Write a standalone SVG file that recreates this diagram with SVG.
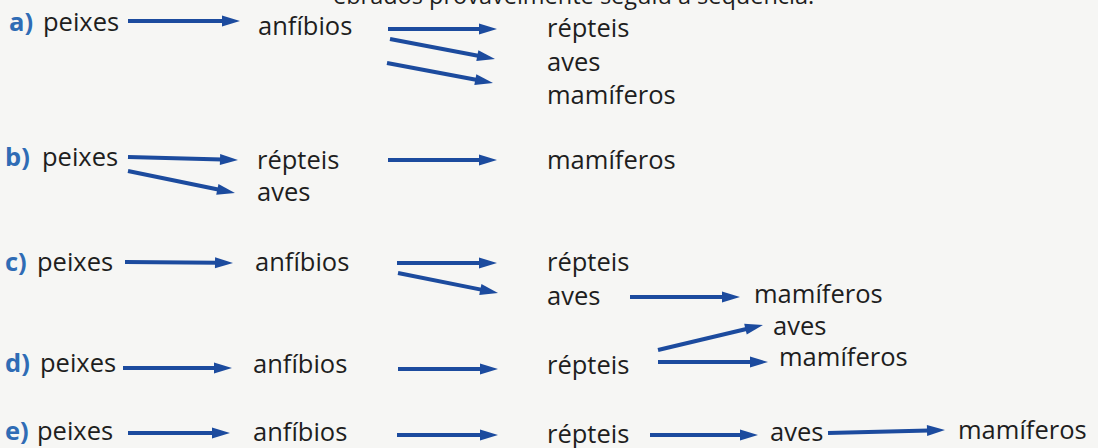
<svg xmlns="http://www.w3.org/2000/svg" width="1098" height="448" viewBox="0 0 1098 448">
<defs>
<style>
.t{font-family:"Open Sans","Liberation Sans",sans-serif;font-size:25.5px;fill:#1e1e1e}
.l{font-family:"Open Sans","Liberation Sans",sans-serif;font-size:25.5px;font-weight:bold;fill:#2f6cb5}
.a{stroke:#1c4b9e;stroke-width:4;fill:none;marker-end:url(#h)}
</style>
<marker id="h" markerUnits="userSpaceOnUse" markerWidth="18" markerHeight="11" refX="2" refY="5.5" orient="auto" overflow="visible">
<path d="M0,0 L18,5.5 L0,11 Z" fill="#1c4b9e"/>
</marker>
</defs>
<rect width="1098" height="448" fill="#f6f6f4"/>
<text class="t" x="333" y="4" style="font-size:23.5px">ebrados provavelmente seguiu a sequência:</text>
<g id="row-a">
<g id="a-label"><text class="l" x="9" y="31">a)</text></g>
<g id="a-peixes"><text class="t" x="43" y="31">peixes</text></g>
<g id="a-anfibios"><text class="t" x="258" y="35">anfíbios</text></g>
<g id="a-repteis"><text class="t" x="547" y="37">répteis</text></g>
<g id="a-aves"><text class="t" x="547" y="71">aves</text></g>
<g id="a-mamiferos"><text class="t" x="547" y="104">mamíferos</text></g>
</g>
<g id="row-b">
<g id="b-label"><text class="l" x="5" y="166">b)</text></g>
<g id="b-peixes"><text class="t" x="42" y="166">peixes</text></g>
<g id="b-repteis"><text class="t" x="257" y="169">répteis</text></g>
<g id="b-aves"><text class="t" x="257" y="201">aves</text></g>
<g id="b-mamiferos"><text class="t" x="547" y="169">mamíferos</text></g>
</g>
<g id="row-c">
<g id="c-label"><text class="l" x="5" y="271">c)</text></g>
<g id="c-peixes"><text class="t" x="37" y="271">peixes</text></g>
<g id="c-anfibios"><text class="t" x="255" y="271">anfíbios</text></g>
<g id="c-repteis"><text class="t" x="547" y="271">répteis</text></g>
<g id="c-aves"><text class="t" x="547" y="305">aves</text></g>
<g id="c-mamiferos"><text class="t" x="754" y="303">mamíferos</text></g>
</g>
<g id="row-d">
<g id="d-label"><text class="l" x="5" y="372">d)</text></g>
<g id="d-peixes"><text class="t" x="40" y="372">peixes</text></g>
<g id="d-anfibios"><text class="t" x="253" y="373">anfíbios</text></g>
<g id="d-repteis"><text class="t" x="547" y="374">répteis</text></g>
<g id="d-aves"><text class="t" x="773" y="335">aves</text></g>
<g id="d-mamiferos"><text class="t" x="779" y="366">mamíferos</text></g>
</g>
<g id="row-e">
<g id="e-label"><text class="l" x="5" y="440">e)</text></g>
<g id="e-peixes"><text class="t" x="37" y="440">peixes</text></g>
<g id="e-anfibios"><text class="t" x="253" y="441">anfíbios</text></g>
<g id="e-repteis"><text class="t" x="547" y="443">répteis</text></g>
<g id="e-aves"><text class="t" x="770" y="441">aves</text></g>
<g id="e-mamiferos"><text class="t" x="958" y="439">mamíferos</text></g>
</g>
<g id="connectors">
<line class="a" x1="128" y1="21" x2="224" y2="21"/>
<line class="a" x1="388" y1="29" x2="481" y2="29"/>
<line class="a" x1="390" y1="39" x2="479.3" y2="56"/>
<line class="a" x1="387" y1="63" x2="477.3" y2="80"/>
<line class="a" x1="128" y1="157" x2="222" y2="159.6"/>
<line class="a" x1="128" y1="171" x2="219.3" y2="189.8"/>
<line class="a" x1="388" y1="160" x2="481" y2="160"/>
<line class="a" x1="125" y1="262" x2="217" y2="262.85"/>
<line class="a" x1="397" y1="263" x2="481" y2="263"/>
<line class="a" x1="398" y1="273" x2="482.3" y2="289.9"/>
<line class="a" x1="630" y1="297" x2="724" y2="297"/>
<line class="a" x1="123" y1="368" x2="216" y2="368"/>
<line class="a" x1="398" y1="369" x2="482" y2="369"/>
<line class="a" x1="658" y1="350" x2="747.4" y2="328.7"/>
<line class="a" x1="658" y1="362" x2="752" y2="362"/>
<line class="a" x1="128" y1="433" x2="214" y2="433"/>
<line class="a" x1="397" y1="435" x2="482" y2="435"/>
<line class="a" x1="650" y1="435" x2="742" y2="435"/>
<line class="a" x1="828" y1="433" x2="929" y2="430.4"/>
</g>
</svg>
